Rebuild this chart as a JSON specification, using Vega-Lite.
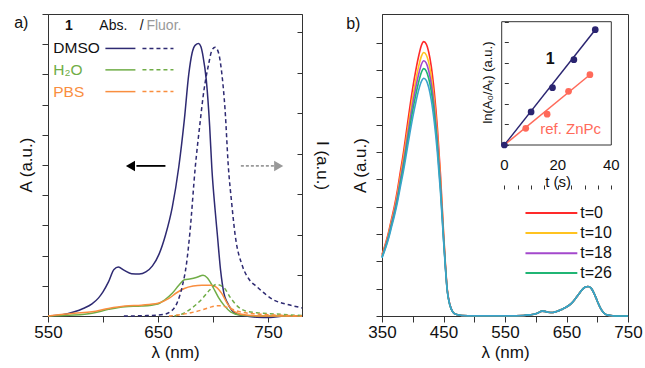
{
"$schema": "https://vega.github.io/schema/vega-lite/v6.json",
"padding": {"left": 13, "top": 13, "right": 0, "bottom": 0},
"spacing": 14,
"config": {
  "font": "Liberation Sans",
  "view": {"stroke": "#333", "strokeWidth": 1},
  "axis": {"grid": false, "domainColor": "#333", "tickColor": "#333", "labelFontSize": 17, "titleFontSize": 17, "titleFontWeight": "normal", "labelColor": "#111", "titleColor": "#111", "labelFlush": false}
},
"datasets": {
  "absA": [
    {"s":"DMSO","wl":550,"A":0},{"s":"DMSO","wl":562,"A":0.03},{"s":"DMSO","wl":574,"A":0.14},{"s":"DMSO","wl":582,"A":0.25},{"s":"DMSO","wl":590,"A":0.4},{"s":"DMSO","wl":596,"A":0.6},{"s":"DMSO","wl":600,"A":0.8},{"s":"DMSO","wl":605,"A":1.13},{"s":"DMSO","wl":610,"A":1.54},{"s":"DMSO","wl":614,"A":1.62},{"s":"DMSO","wl":619,"A":1.52},{"s":"DMSO","wl":626,"A":1.4},{"s":"DMSO","wl":633,"A":1.39},{"s":"DMSO","wl":639,"A":1.46},{"s":"DMSO","wl":645,"A":1.66},{"s":"DMSO","wl":651,"A":2.05},{"s":"DMSO","wl":657,"A":2.7},{"s":"DMSO","wl":663,"A":3.6},{"s":"DMSO","wl":669,"A":4.95},{"s":"DMSO","wl":674,"A":6.5},{"s":"DMSO","wl":678,"A":8.0},{"s":"DMSO","wl":681,"A":8.7},{"s":"DMSO","wl":684,"A":8.97},{"s":"DMSO","wl":687,"A":9.02},{"s":"DMSO","wl":689,"A":8.92},{"s":"DMSO","wl":691,"A":8.6},{"s":"DMSO","wl":694,"A":7.8},{"s":"DMSO","wl":697,"A":6.3},{"s":"DMSO","wl":699,"A":4.9},{"s":"DMSO","wl":702,"A":3.5},{"s":"DMSO","wl":704,"A":2.7},{"s":"DMSO","wl":707,"A":1.5},{"s":"DMSO","wl":710,"A":0.75},{"s":"DMSO","wl":713,"A":0.45},{"s":"DMSO","wl":717,"A":0.2},{"s":"DMSO","wl":722,"A":0.06},{"s":"DMSO","wl":730,"A":0.0},{"s":"DMSO","wl":740,"A":-0.04},{"s":"DMSO","wl":752,"A":-0.05},{"s":"DMSO","wl":765,"A":0.0},{"s":"DMSO","wl":781,"A":0.0},
    {"s":"H2O","wl":550,"A":0},{"s":"H2O","wl":574,"A":0.03},{"s":"H2O","wl":590,"A":0.09},{"s":"H2O","wl":605,"A":0.22},{"s":"H2O","wl":620,"A":0.31},{"s":"H2O","wl":635,"A":0.33},{"s":"H2O","wl":650,"A":0.4},{"s":"H2O","wl":656,"A":0.53},{"s":"H2O","wl":663,"A":0.75},{"s":"H2O","wl":669,"A":1.02},{"s":"H2O","wl":674,"A":1.2},{"s":"H2O","wl":680,"A":1.23},{"s":"H2O","wl":686,"A":1.29},{"s":"H2O","wl":691,"A":1.35},{"s":"H2O","wl":695,"A":1.26},{"s":"H2O","wl":700,"A":0.96},{"s":"H2O","wl":705,"A":0.62},{"s":"H2O","wl":710,"A":0.36},{"s":"H2O","wl":716,"A":0.14},{"s":"H2O","wl":725,"A":0.03},{"s":"H2O","wl":740,"A":0},{"s":"H2O","wl":781,"A":0},
    {"s":"PBS","wl":550,"A":0},{"s":"PBS","wl":574,"A":0.09},{"s":"PBS","wl":590,"A":0.14},{"s":"PBS","wl":605,"A":0.25},{"s":"PBS","wl":620,"A":0.33},{"s":"PBS","wl":635,"A":0.36},{"s":"PBS","wl":650,"A":0.42},{"s":"PBS","wl":660,"A":0.58},{"s":"PBS","wl":667,"A":0.77},{"s":"PBS","wl":674,"A":0.91},{"s":"PBS","wl":682,"A":0.99},{"s":"PBS","wl":690,"A":1.02},{"s":"PBS","wl":698,"A":1.02},{"s":"PBS","wl":703,"A":0.96},{"s":"PBS","wl":708,"A":0.75},{"s":"PBS","wl":713,"A":0.42},{"s":"PBS","wl":720,"A":0.14},{"s":"PBS","wl":730,"A":0.03},{"s":"PBS","wl":745,"A":0},{"s":"PBS","wl":781,"A":0}
  ],
  "flA": [
    {"s":"DMSO","wl":619,"I":0},{"s":"DMSO","wl":640,"I":0.01},{"s":"DMSO","wl":655,"I":0.04},{"s":"DMSO","wl":662,"I":0.12},{"s":"DMSO","wl":667,"I":0.3},{"s":"DMSO","wl":672,"I":0.72},{"s":"DMSO","wl":676,"I":1.3},{"s":"DMSO","wl":679,"I":2.04},{"s":"DMSO","wl":684,"I":3.69},{"s":"DMSO","wl":688,"I":4.7},{"s":"DMSO","wl":692,"I":5.6},{"s":"DMSO","wl":696,"I":6.2},{"s":"DMSO","wl":699,"I":6.55},{"s":"DMSO","wl":702,"I":6.63},{"s":"DMSO","wl":705,"I":6.5},{"s":"DMSO","wl":708,"I":6.0},{"s":"DMSO","wl":711,"I":5.1},{"s":"DMSO","wl":714,"I":3.69},{"s":"DMSO","wl":717,"I":2.8},{"s":"DMSO","wl":720,"I":2.04},{"s":"DMSO","wl":727,"I":1.22},{"s":"DMSO","wl":733,"I":0.9},{"s":"DMSO","wl":740,"I":0.72},{"s":"DMSO","wl":755,"I":0.4},{"s":"DMSO","wl":770,"I":0.27},{"s":"DMSO","wl":781,"I":0.2},
    {"s":"H2O","wl":665,"I":0},{"s":"H2O","wl":672,"I":0.05},{"s":"H2O","wl":680,"I":0.18},{"s":"H2O","wl":690,"I":0.42},{"s":"H2O","wl":697,"I":0.64},{"s":"H2O","wl":703,"I":0.78},{"s":"H2O","wl":710,"I":0.7},{"s":"H2O","wl":716,"I":0.45},{"s":"H2O","wl":722,"I":0.25},{"s":"H2O","wl":730,"I":0.12},{"s":"H2O","wl":740,"I":0.08},{"s":"H2O","wl":756,"I":0.05},{"s":"H2O","wl":781,"I":0.01},
    {"s":"PBS","wl":660,"I":0},{"s":"PBS","wl":670,"I":0.03},{"s":"PBS","wl":680,"I":0.08},{"s":"PBS","wl":690,"I":0.15},{"s":"PBS","wl":697,"I":0.21},{"s":"PBS","wl":703,"I":0.25},{"s":"PBS","wl":708,"I":0.25},{"s":"PBS","wl":714,"I":0.2},{"s":"PBS","wl":720,"I":0.14},{"s":"PBS","wl":727,"I":0.09},{"s":"PBS","wl":740,"I":0.05},{"s":"PBS","wl":760,"I":0.02},{"s":"PBS","wl":781,"I":0}
  ],
  "legA": [
    {"s":"DMSO","wl":602.2,"wl2":629.5,"wd":635.9,"wd2":664.1,"A":8.86},
    {"s":"H2O","wl":602.2,"wl2":629.5,"wd":635.9,"wd2":664.1,"A":8.15},
    {"s":"PBS","wl":602.2,"wl2":629.5,"wd":635.9,"wd2":664.1,"A":7.43}
  ],
  "txtA": [
    {"id":"panel","txt":"a)","wl":525.7,"A":9.7},
    {"id":"num","txt":"1","wl":568.9,"A":9.6},
    {"id":"abs","txt":"Abs.","wl":596.7,"A":9.6},
    {"id":"abs","txt":"/","wl":633.5,"A":9.6},
    {"id":"fl","txt":"Fluor.","wl":639.5,"A":9.6},
    {"id":"DMSO","s":"DMSO","txt":"DMSO","wl":554.8,"A":8.86},
    {"id":"sol","s":"H2O","txt":"H₂O","wl":554.8,"A":8.15},
    {"id":"sol","s":"PBS","txt":"PBS","wl":554.8,"A":7.43},
    {"id":"ytitle","txt":"A (a.u.)","wl":530.5,"A":5.0}
  ],
  "arrA": [
    {"id":"abs","wl":630.4,"wl2":656.8,"h":625,"A":4.97},
    {"id":"fl","wl":725.4,"wl2":755.5,"h":759.8,"A":4.97}
  ],
  "specB": [
    {"wl":350,"t0":2.25,"t10":2.21,"t18":2.18,"t26":2.15,"t34":2.12},
    {"wl":355,"t0":2.6,"t10":2.55,"t18":2.51,"t26":2.47,"t34":2.43},
    {"wl":360,"t0":3.0,"t10":2.94,"t18":2.88,"t26":2.83,"t34":2.78},
    {"wl":365,"t0":3.5,"t10":3.42,"t18":3.35,"t26":3.28,"t34":3.21},
    {"wl":370,"t0":4.0,"t10":3.9,"t18":3.82,"t26":3.73,"t34":3.65},
    {"wl":375,"t0":4.6,"t10":4.47,"t18":4.36,"t26":4.25,"t34":4.15},
    {"wl":380,"t0":5.3,"t10":5.13,"t18":5.0,"t26":4.87,"t34":4.74},
    {"wl":385,"t0":6.0,"t10":5.8,"t18":5.63,"t26":5.47,"t34":5.32},
    {"wl":390,"t0":6.8,"t10":6.55,"t18":6.35,"t26":6.16,"t34":5.98},
    {"wl":395,"t0":7.6,"t10":7.3,"t18":7.08,"t26":6.86,"t34":6.65},
    {"wl":400,"t0":8.35,"t10":8.02,"t18":7.77,"t26":7.52,"t34":7.27},
    {"wl":405,"t0":9.0,"t10":8.64,"t18":8.37,"t26":8.1,"t34":7.82},
    {"wl":410,"t0":9.55,"t10":9.17,"t18":8.88,"t26":8.6,"t34":8.3},
    {"wl":414,"t0":9.9,"t10":9.5,"t18":9.2,"t26":8.91,"t34":8.58},
    {"wl":418,"t0":10.04,"t10":9.64,"t18":9.34,"t26":9.05,"t34":8.7},
    {"wl":422,"t0":9.95,"t10":9.55,"t18":9.25,"t26":8.96,"t34":8.62},
    {"wl":426,"t0":9.65,"t10":9.27,"t18":8.97,"t26":8.69,"t34":8.36},
    {"wl":430,"t0":9.15,"t10":8.78,"t18":8.51,"t26":8.24,"t34":7.92},
    {"wl":435,"t0":8.2,"t10":7.88,"t18":7.63,"t26":7.38,"t34":7.1},
    {"wl":440,"t0":6.9,"t10":6.63,"t18":6.42,"t26":6.21,"t34":5.98},
    {"wl":445,"t0":5.2,"t10":5.0,"t18":4.85,"t26":4.7,"t34":4.55},
    {"wl":450,"t0":3.1,"t10":3.0,"t18":2.92,"t26":2.85,"t34":2.78},
    {"wl":453,"t0":1.95,"t10":1.9,"t18":1.85,"t26":1.82,"t34":1.78},
    {"wl":456,"t0":1.0,"t10":0.98,"t18":0.96,"t26":0.95,"t34":0.94},
    {"wl":460,"t0":0.45,"t10":0.44,"t18":0.44,"t26":0.43,"t34":0.43},
    {"wl":465,"t0":0.15,"t10":0.15,"t18":0.15,"t26":0.15,"t34":0.15},
    {"wl":470,"t0":0.06,"t10":0.06,"t18":0.06,"t26":0.06,"t34":0.06},
    {"wl":480,"t0":0.02,"t10":0.02,"t18":0.02,"t26":0.02,"t34":0.02},
    {"wl":500,"t0":0.01,"t10":0.01,"t18":0.01,"t26":0.01,"t34":0.01},
    {"wl":550,"t0":0.01,"t10":0.01,"t18":0.01,"t26":0.01,"t34":0.01},
    {"wl":580,"t0":0.02,"t10":0.02,"t18":0.02,"t26":0.02,"t34":0.02},
    {"wl":590,"t0":0.04,"t10":0.04,"t18":0.04,"t26":0.04,"t34":0.04},
    {"wl":600,"t0":0.08,"t10":0.08,"t18":0.08,"t26":0.08,"t34":0.08},
    {"wl":605,"t0":0.13,"t10":0.13,"t18":0.13,"t26":0.13,"t34":0.13},
    {"wl":610,"t0":0.18,"t10":0.18,"t18":0.18,"t26":0.18,"t34":0.18},
    {"wl":615,"t0":0.17,"t10":0.17,"t18":0.17,"t26":0.17,"t34":0.17},
    {"wl":620,"t0":0.14,"t10":0.14,"t18":0.14,"t26":0.14,"t34":0.14},
    {"wl":628,"t0":0.13,"t10":0.13,"t18":0.13,"t26":0.13,"t34":0.13},
    {"wl":635,"t0":0.17,"t10":0.17,"t18":0.17,"t26":0.17,"t34":0.17},
    {"wl":643,"t0":0.25,"t10":0.25,"t18":0.25,"t26":0.25,"t34":0.25},
    {"wl":650,"t0":0.33,"t10":0.33,"t18":0.33,"t26":0.33,"t34":0.33},
    {"wl":658,"t0":0.46,"t10":0.46,"t18":0.46,"t26":0.46,"t34":0.46},
    {"wl":665,"t0":0.65,"t10":0.65,"t18":0.65,"t26":0.65,"t34":0.65},
    {"wl":670,"t0":0.8,"t10":0.8,"t18":0.8,"t26":0.8,"t34":0.8},
    {"wl":675,"t0":0.95,"t10":0.95,"t18":0.95,"t26":0.95,"t34":0.95},
    {"wl":680,"t0":1.05,"t10":1.05,"t18":1.05,"t26":1.05,"t34":1.05},
    {"wl":685,"t0":1.08,"t10":1.08,"t18":1.08,"t26":1.08,"t34":1.08},
    {"wl":690,"t0":1.02,"t10":1.02,"t18":1.02,"t26":1.02,"t34":1.02},
    {"wl":695,"t0":0.82,"t10":0.82,"t18":0.82,"t26":0.82,"t34":0.82},
    {"wl":700,"t0":0.55,"t10":0.55,"t18":0.55,"t26":0.55,"t34":0.55},
    {"wl":705,"t0":0.3,"t10":0.3,"t18":0.3,"t26":0.3,"t34":0.3},
    {"wl":710,"t0":0.13,"t10":0.13,"t18":0.13,"t26":0.13,"t34":0.13},
    {"wl":715,"t0":0.05,"t10":0.05,"t18":0.05,"t26":0.05,"t34":0.05},
    {"wl":722,"t0":0.02,"t10":0.02,"t18":0.02,"t26":0.02,"t34":0.02},
    {"wl":735,"t0":0,"t10":0,"t18":0,"t26":0,"t34":0},
    {"wl":750,"t0":0,"t10":0,"t18":0,"t26":0,"t34":0}
  ],
  "legB": [
    {"key":"t0","txt":"t=0","wl":583.3,"wl2":667.6,"A":3.77},
    {"key":"t10","txt":"t=10","wl":583.3,"wl2":667.6,"A":3.04},
    {"key":"t18","txt":"t=18","wl":583.3,"wl2":667.6,"A":2.30},
    {"key":"t26","txt":"t=26","wl":583.3,"wl2":667.6,"A":1.57}
  ],
  "txtB": [
    {"txt":"b)","wl":303.3,"A":10.7}
  ],
  "frameI": [{"t":-1,"t2":40,"v":0,"v2":6}],
  "fitI": [
    {"s":"1","t":0,"v":0},{"s":"1","t":34,"v":5.61},
    {"s":"ref","t":0,"v":0},{"s":"ref","t":32,"v":3.42}
  ],
  "ptsI": [
    {"s":"ref","t":8,"v":0.81},{"s":"ref","t":16,"v":1.5},{"s":"ref","t":24,"v":2.61},{"s":"ref","t":32,"v":3.42},
    {"s":"1","t":0,"v":0},{"s":"1","t":10,"v":1.61},{"s":"1","t":18,"v":2.79},{"s":"1","t":26,"v":4.15},{"s":"1","t":34,"v":5.61}
  ],
  "txtI": [
    {"id":"one","txt":"1","t":17.1,"v":4.17},
    {"id":"ref","txt":"ref. ZnPc","t":13.4,"v":0.78},
    {"id":"lab","txt":"0","t":0,"v":-0.97},
    {"id":"lab","txt":"20","t":20,"v":-0.97},
    {"id":"lab","txt":"40","t":40,"v":-0.97},
    {"id":"lab","txt":"t (s)","t":20.1,"v":-1.8},
    {"id":"ytitle","txt":"ln(A₀/Aₜ) (a.u.)","t":-6.1,"v":3.04}
  ]
},
"resolve": {"scale": {"x": "independent", "y": "independent", "color": "independent"}},
"hconcat": [
  {
    "width": 254, "height": 302,
    "resolve": {"scale": {"y": "independent"}},
    "layer": [
      {
        "encoding": {
          "x": {"field": "wl", "type": "quantitative", "scale": {"domain": [550, 781], "nice": false, "zero": false},
                "axis": {"values": [550,575,600,625,650,675,700,725,750,775], "labelExpr": "datum.value % 100 == 50 ? datum.label : ''", "tickSize": 6, "labelPadding": 2, "title": "λ (nm)", "titlePadding": 4}},
          "y": {"field": "A", "type": "quantitative", "scale": {"domain": [0, 10], "nice": false, "zero": false},
                "axis": {"values": [0,1,2,3,4,5,6,7,8,9,10], "labels": false, "tickSize": 6, "title": null}}
        },
        "layer": [
          {"data": {"name": "absA"}, "mark": {"type": "line", "strokeWidth": 1.5, "interpolate": "monotone"},
           "encoding": {"color": {"field": "s", "type": "nominal", "scale": {"domain": ["DMSO","H2O","PBS"], "range": ["#2e2a72","#70ad47","#f98e3f"]}, "legend": null}}},
          {"data": {"name": "legA"}, "mark": {"type": "rule", "strokeWidth": 1.5},
           "encoding": {"x2": {"field": "wl2"}, "color": {"field": "s", "type": "nominal", "legend": null}}},
          {"data": {"name": "legA"}, "mark": {"type": "rule", "strokeWidth": 1.5, "strokeDash": [4, 3]},
           "encoding": {"x": {"field": "wd", "type": "quantitative"}, "x2": {"field": "wd2"}, "color": {"field": "s", "type": "nominal", "legend": null}}},
          {"data": {"name": "txtA"}, "transform": [{"filter": "datum.id == 'panel'"}],
           "mark": {"type": "text", "fontSize": 16, "align": "center", "baseline": "middle", "color": "#111"},
           "encoding": {"text": {"field": "txt"}}},
          {"data": {"name": "txtA"}, "transform": [{"filter": "datum.id == 'ytitle'"}],
           "mark": {"type": "text", "fontSize": 17, "angle": 270, "align": "center", "baseline": "middle", "color": "#111"},
           "encoding": {"text": {"field": "txt"}}},
          {"data": {"name": "txtA"}, "transform": [{"filter": "datum.id == 'num'"}],
           "mark": {"type": "text", "fontSize": 14, "fontWeight": "bold", "align": "center", "baseline": "middle", "color": "#111"},
           "encoding": {"text": {"field": "txt"}}},
          {"data": {"name": "txtA"}, "transform": [{"filter": "datum.id == 'abs'"}],
           "mark": {"type": "text", "fontSize": 14, "align": "left", "baseline": "middle", "color": "#111"},
           "encoding": {"text": {"field": "txt"}}},
          {"data": {"name": "txtA"}, "transform": [{"filter": "datum.id == 'fl'"}],
           "mark": {"type": "text", "fontSize": 14, "align": "left", "baseline": "middle", "color": "#999"},
           "encoding": {"text": {"field": "txt"}}},
          {"data": {"name": "txtA"}, "transform": [{"filter": "datum.id == 'DMSO'"}],
           "mark": {"type": "text", "fontSize": 15.5, "align": "left", "baseline": "middle", "color": "#111"},
           "encoding": {"text": {"field": "txt"}}},
          {"data": {"name": "txtA"}, "transform": [{"filter": "datum.id == 'sol'"}],
           "mark": {"type": "text", "fontSize": 15.5, "align": "left", "baseline": "middle"},
           "encoding": {"text": {"field": "txt"}, "color": {"field": "s", "type": "nominal", "legend": null}}},
          {"data": {"name": "arrA"}, "transform": [{"filter": "datum.id == 'abs'"}],
           "mark": {"type": "rule", "strokeWidth": 1.8, "color": "#000"},
           "encoding": {"x2": {"field": "wl2"}}},
          {"data": {"name": "arrA"}, "transform": [{"filter": "datum.id == 'abs'"}],
           "mark": {"type": "point", "shape": "triangle-left", "size": 110, "filled": true, "opacity": 1, "color": "#000"},
           "encoding": {"x": {"field": "h", "type": "quantitative"}}},
          {"data": {"name": "arrA"}, "transform": [{"filter": "datum.id == 'fl'"}],
           "mark": {"type": "rule", "strokeWidth": 1.6, "strokeDash": [3, 2], "color": "#999"},
           "encoding": {"x2": {"field": "wl2"}}},
          {"data": {"name": "arrA"}, "transform": [{"filter": "datum.id == 'fl'"}],
           "mark": {"type": "point", "shape": "triangle-right", "size": 110, "filled": true, "opacity": 1, "color": "#999"},
           "encoding": {"x": {"field": "h", "type": "quantitative"}}}
        ]
      },
      {
        "data": {"name": "flA"},
        "mark": {"type": "line", "strokeWidth": 1.5, "strokeDash": [4, 3], "interpolate": "monotone"},
        "encoding": {
          "x": {"field": "wl", "type": "quantitative"},
          "y": {"field": "I", "type": "quantitative", "scale": {"domain": [0, 7.45], "nice": false, "zero": false},
                "axis": {"orient": "right", "values": [0,1,2,3,4,5,6,7], "labels": false, "tickSize": -5, "title": "I (a.u.)", "titlePadding": 10}},
          "color": {"field": "s", "type": "nominal", "legend": null}
        }
      }
    ]
  },
  {
    "width": 246, "height": 302,
    "resolve": {"scale": {"x": "independent", "y": "independent", "color": "independent"}},
    "layer": [
      {
        "encoding": {
          "x": {"field": "wl", "type": "quantitative", "scale": {"domain": [350, 750], "nice": false, "zero": false},
                "axis": {"values": [350,400,450,500,550,600,650,700,750], "labelExpr": "datum.value % 100 == 50 ? datum.label : ''", "tickSize": 6, "labelPadding": 2, "title": "λ (nm)", "titlePadding": 4}},
          "y": {"field": "A", "type": "quantitative", "scale": {"domain": [0, 11.05], "nice": false, "zero": false},
                "axis": {"values": [0,1,2,3,4,5,6,7,8,9,10], "labels": false, "tickSize": 6, "title": "A (a.u.)", "titlePadding": 6}}
        },
        "layer": [
          {"data": {"name": "specB"}, "transform": [{"fold": ["t0","t10","t18","t26","t34"], "as": ["key","A"]}],
           "mark": {"type": "line", "strokeWidth": 1.6, "interpolate": "monotone"},
           "encoding": {"color": {"field": "key", "type": "nominal", "scale": {"domain": ["t0","t10","t18","t26","t34"], "range": ["#ff2a2a","#ffc320","#a348cc","#20b574","#3aa3cc"]}, "legend": null}}},
          {"data": {"name": "legB"}, "mark": {"type": "rule", "strokeWidth": 2},
           "encoding": {"x2": {"field": "wl2"}, "color": {"field": "key", "type": "nominal", "legend": null}}},
          {"data": {"name": "legB"}, "mark": {"type": "text", "fontSize": 16, "align": "left", "baseline": "middle", "dx": 3, "color": "#111"},
           "encoding": {"x": {"field": "wl2", "type": "quantitative"}, "text": {"field": "txt"}}},
          {"data": {"name": "txtB"}, "mark": {"type": "text", "fontSize": 16, "align": "center", "baseline": "middle", "color": "#111"},
           "encoding": {"text": {"field": "txt"}}}
        ]
      },
      {
        "encoding": {
          "x": {"field": "t", "type": "quantitative", "scale": {"domain": [-1, 40], "range": [119.7, 229.3], "nice": false, "zero": false},
                "axis": {"offset": -171, "values": [0,5,10,15,20,25,30,35,40], "labels": false, "tickSize": -4, "domain": false, "title": null}},
          "y": {"field": "v", "type": "quantitative", "scale": {"domain": [0, 6], "range": [131, 7.7], "nice": false, "zero": false},
                "axis": {"offset": -119.7, "values": [0,1,2,3,4,5,6], "labels": false, "tickSize": -4, "domain": false, "title": null}}
        },
        "layer": [
          {"data": {"name": "frameI"}, "mark": {"type": "rect", "fill": "#fff", "fillOpacity": 0, "stroke": "#333", "strokeWidth": 1},
           "encoding": {"x2": {"field": "t2"}, "y2": {"field": "v2"}}},
          {"data": {"name": "fitI"}, "mark": {"type": "line", "strokeWidth": 1.5},
           "encoding": {"color": {"field": "s", "type": "nominal", "scale": {"domain": ["1","ref"], "range": ["#2a2470","#ff6a5a"]}, "legend": null}}},
          {"data": {"name": "ptsI"}, "mark": {"type": "circle", "size": 45, "opacity": 1},
           "encoding": {"color": {"field": "s", "type": "nominal", "legend": null}}},
          {"data": {"name": "txtI"}, "transform": [{"filter": "datum.id == 'one'"}],
           "mark": {"type": "text", "fontSize": 16, "fontWeight": "bold", "align": "center", "baseline": "middle", "color": "#111"},
           "encoding": {"text": {"field": "txt"}}},
          {"data": {"name": "txtI"}, "transform": [{"filter": "datum.id == 'ref'"}],
           "mark": {"type": "text", "fontSize": 15, "align": "left", "baseline": "middle", "color": "#ff6a5a"},
           "encoding": {"text": {"field": "txt"}}},
          {"data": {"name": "txtI"}, "transform": [{"filter": "datum.id == 'lab'"}],
           "mark": {"type": "text", "fontSize": 15, "align": "center", "baseline": "middle", "color": "#111"},
           "encoding": {"text": {"field": "txt"}}},
          {"data": {"name": "txtI"}, "transform": [{"filter": "datum.id == 'ytitle'"}],
           "mark": {"type": "text", "fontSize": 13, "angle": 270, "align": "center", "baseline": "middle", "color": "#111"},
           "encoding": {"text": {"field": "txt"}}}
        ]
      }
    ]
  }
]
}
